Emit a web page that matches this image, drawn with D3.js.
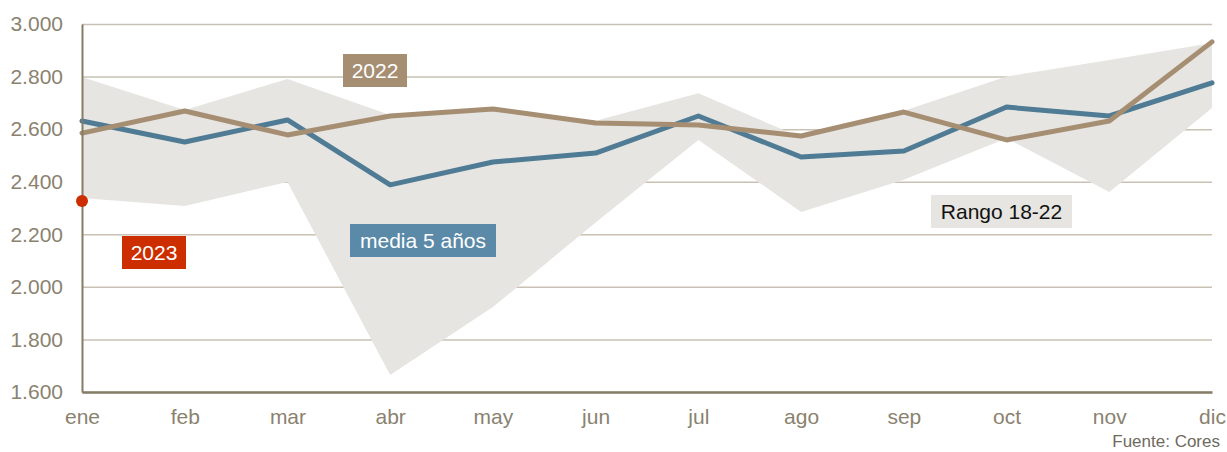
<!DOCTYPE html>
<html>
<head>
<meta charset="utf-8">
<script src="https://cdn.jsdelivr.net/npm/d3@7"></script>
<style>
  body { margin: 0; background: #fff; }
  text { font-family: "Liberation Sans", Arial, sans-serif; }
</style>
</head>
<body>
<script>
'use strict';

const months = ['ene', 'feb', 'mar', 'abr', 'may', 'jun', 'jul', 'ago', 'sep', 'oct', 'nov', 'dic'];
const media5 = [2631, 2551, 2635, 2388, 2475, 2509, 2650, 2494, 2517, 2684, 2650, 2776];
const y2022 = [2585, 2669, 2578, 2650, 2677, 2623, 2616, 2574, 2665, 2559, 2631, 2932];
const rangoMax = [2798, 2673, 2791, 2654, 2674, 2632, 2737, 2568, 2670, 2800, 2863, 2928];
const rangoMin = [2338, 2308, 2399, 1665, 1923, 2245, 2559, 2285, 2407, 2565, 2361, 2680];
const y2023 = [2327];
const yTicks = [1600, 1800, 2000, 2200, 2400, 2600, 2800, 3000];

const msm = { width: 1227, height: 452, left: 82, right: 1212, top: 24, bottom: 392 };

const svg = d3.select('body').append('svg')
  .attr('width', msm.width)
  .attr('height', msm.height);

const x = d3.scalePoint().domain(months).range([msm.left, msm.right]);
const y = d3.scaleLinear().domain([1600, 3000]).range([msm.bottom, msm.top]);

const es = d3.formatLocale({ decimal: ',', thousands: '.', grouping: [3], currency: ['', '€'] });
const fmt = es.format(',d');

// grid lines
svg.append('g')
  .attr('transform', 'translate(' + msm.left + ',0)')
  .call(d3.axisLeft(y).tickValues(yTicks).tickSize(-(msm.right - msm.left)).tickFormat(''))
  .call(g => g.select('.domain').remove())
  .call(g => g.selectAll('line').attr('stroke', '#c9c2b4').attr('stroke-width', 1.5));

// range band
const band = months.map((m, i) => ({ m: m, lo: rangoMin[i], hi: rangoMax[i] }));
svg.append('path')
  .datum(band)
  .attr('fill', '#e6e5e1')
  .attr('d', d3.area().x(d => x(d.m)).y0(d => y(d.lo)).y1(d => y(d.hi)));

// lines
function drawLine(values, color) {
  svg.append('path')
    .datum(values)
    .attr('fill', 'none')
    .attr('stroke', color)
    .attr('stroke-width', 5)
    .attr('stroke-linejoin', 'round')
    .attr('stroke-linecap', 'round')
    .attr('d', d3.line().x((d, i) => x(months[i])).y(d => y(d)));
}
drawLine(media5, '#4f7b95');
drawLine(y2022, '#a68e73');

// axes
const yAxis = svg.append('g')
  .attr('transform', 'translate(' + msm.left + ',0)')
  .call(d3.axisLeft(y).tickValues(yTicks).tickSize(0).tickPadding(19).tickFormat(fmt));
yAxis.select('.domain').attr('stroke', '#857c67').attr('stroke-width', 2);
yAxis.selectAll('text').attr('fill', '#8a826f').style('font-size', '21px')
  .style('font-family', '"Liberation Sans", Arial, sans-serif');

const xAxis = svg.append('g')
  .attr('transform', 'translate(0,' + msm.bottom + ')')
  .call(d3.axisBottom(x).tickSize(0).tickPadding(17));
xAxis.select('.domain').attr('stroke', '#857c67').attr('stroke-width', 2.5);
xAxis.selectAll('text').attr('fill', '#8a826f').style('font-size', '21px')
  .style('font-family', '"Liberation Sans", Arial, sans-serif');

// 2023 point
svg.selectAll('.dot23')
  .data(y2023)
  .enter()
  .append('circle')
  .attr('cx', (d, i) => x(months[i]))
  .attr('cy', d => y(d))
  .attr('r', 6)
  .attr('fill', '#cc2e00');

// labels
function boxLabel(cx, cy, w, h, text, fill, color) {
  svg.append('rect')
    .attr('x', cx - w / 2).attr('y', cy - h / 2)
    .attr('width', w).attr('height', h)
    .attr('fill', fill);
  svg.append('text')
    .attr('x', cx).attr('y', cy + 7.5)
    .attr('text-anchor', 'middle')
    .attr('fill', color)
    .style('font-size', '21px')
    .text(text);
}
boxLabel(375, 70.5, 64, 33, '2022', '#a68e73', '#fff');
boxLabel(423, 240.5, 146, 33, 'media 5 años', '#5b8aa8', '#fff');
boxLabel(154, 252.5, 64, 33, '2023', '#cc2e00', '#fff');
boxLabel(1001.5, 211.5, 141, 33, 'Rango 18-22', '#e6e5e1', '#111');

svg.append('text')
  .attr('x', 1220).attr('y', 447)
  .attr('text-anchor', 'end')
  .attr('fill', '#6f6a5e')
  .style('font-size', '17px')
  .text('Fuente: Cores');
</script>
</body>
</html>
